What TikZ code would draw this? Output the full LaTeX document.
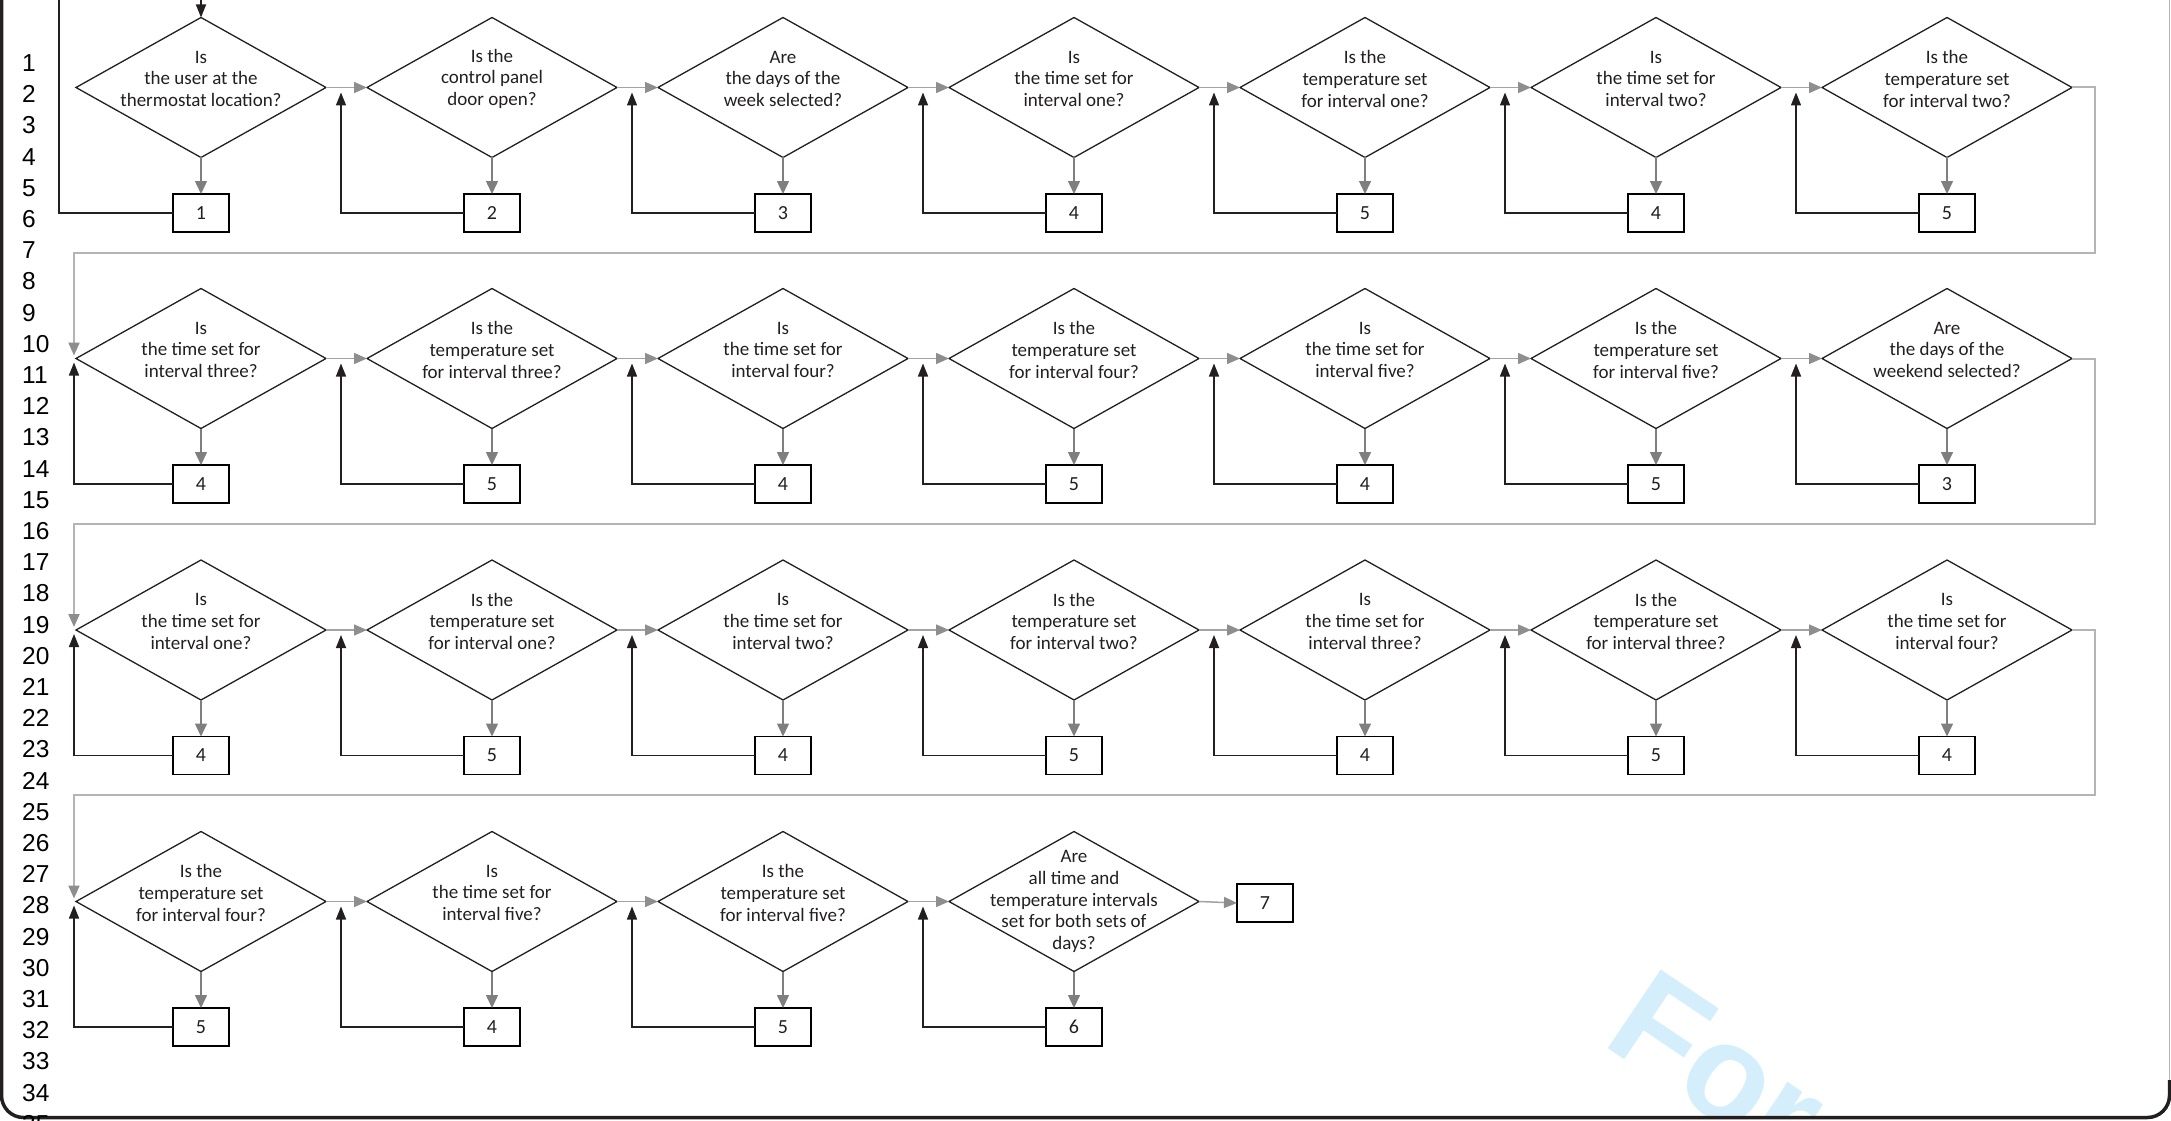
\documentclass[tikz,border=0pt]{standalone}
\usepackage{fontspec}
\setmainfont{Carlito}
\newfontfamily\numfont{Liberation Sans}
\newfontfamily\wmfont{Liberation Sans}
\usetikzlibrary{shapes.geometric,arrows.meta}
\definecolor{ink}{HTML}{231F20}
\definecolor{conn}{HTML}{A3A3A3}
\definecolor{connhead}{HTML}{8E8E8E}
\definecolor{downc}{HTML}{7F7F7F}
\definecolor{sepc}{HTML}{B4B4B4}
\definecolor{wm}{HTML}{D4EFFB}
\begin{document}
\begin{tikzpicture}[x=1pt,y=-1pt,
  dia/.style={draw=ink, line width=1.3pt, shape=diamond, minimum width=250pt, minimum height=140pt, inner sep=0pt, outer sep=0pt},
  qtxt/.style={text=ink, align=center, font=\fontsize{19}{21.7}\selectfont, inner sep=0pt},
  numbox/.style={draw=black, line width=1.8pt, minimum width=56pt, minimum height=38pt, inner sep=0pt, outer sep=0pt, text=ink, font=\fontsize{20}{22}\selectfont},
  fwd/.style={draw=conn, line width=1.5pt, -{Triangle[length=13pt,width=11pt,color=connhead]}},
  down/.style={draw=downc, line width=1.5pt, -{Triangle[length=13pt,width=12pt,color=downc]}},
  back/.style={draw=ink, line width=1.5pt, -{Triangle[length=13pt,width=10pt,color=ink]}},
  backplain/.style={draw=ink, line width=1.5pt},
  wrap/.style={draw=sepc, line width=2pt, -{Triangle[length=13pt,width=11pt,color=connhead]}},
  lnum/.style={anchor=west, inner sep=0pt, font=\numfont\fontsize{24.5}{24.5}\selectfont, text=black},
  wmark/.style={text=wm, font=\wmfont\bfseries\fontsize{138}{138}\selectfont, rotate=-34, anchor=base west, inner sep=0pt}
]
\useasboundingbox (0,0) rectangle (2171,1121);
\fill[white] (0,0) rectangle (2171,1121);

% watermark
\begin{scope}
\clip (0,0) rectangle (2166,1116);
\node[wmark] (wmk) at (1600,1043) {For};
\end{scope}

% frame
\coordinate (frTR) at (2169.5,-5);
\coordinate (frR) at (2169.5,1095);
\draw[sepc, line width=1.5pt] (frTR) -- (frR);
\draw[ink, line width=3.5pt, rounded corners=22pt] (1.5,-5) -- (1.5,1117.5) -- (2169.5,1117.5) -- (2169.5,1080);

% line numbers
\foreach \k in {1,...,35}{
  \node[lnum] (ln\k) at (22,{63+31.2*(\k-1)}) {\k};
}

% row 1
\foreach \i/\qq/\bb in {
  1/{Is\\the user at the\\thermostat location?}/1,
  2/{Is the\\control panel\\door open?}/2,
  3/{Are\\the days of the\\week selected?}/3,
  4/{Is\\the time set for\\interval one?}/4,
  5/{Is the\\temperature set\\for interval one?}/5,
  6/{Is\\the time set for\\interval two?}/4,
  7/{Is the\\temperature set\\for interval two?}/5}{
  \node[dia] (d1\i) at ({201+291*(\i-1)},87.5) {};
  \node[qtxt] (t1\i) at ({201+291*(\i-1)},78.8) {\qq};
  \node[numbox] (b1\i) at ({201+291*(\i-1)},213) {\bb};
  \draw[down] (d1\i.south) -- (b1\i.north);
}

% row 2
\foreach \i/\qq/\bb in {
  1/{Is\\the time set for\\interval three?}/4,
  2/{Is the\\temperature set\\for interval three?}/5,
  3/{Is\\the time set for\\interval four?}/4,
  4/{Is the\\temperature set\\for interval four?}/5,
  5/{Is\\the time set for\\interval five?}/4,
  6/{Is the\\temperature set\\for interval five?}/5,
  7/{Are\\the days of the\\weekend selected?}/3}{
  \node[dia] (d2\i) at ({201+291*(\i-1)},358.5) {};
  \node[qtxt] (t2\i) at ({201+291*(\i-1)},349.8) {\qq};
  \node[numbox] (b2\i) at ({201+291*(\i-1)},484) {\bb};
  \draw[down] (d2\i.south) -- (b2\i.north);
}

% row 3
\foreach \i/\qq/\bb in {
  1/{Is\\the time set for\\interval one?}/4,
  2/{Is the\\temperature set\\for interval one?}/5,
  3/{Is\\the time set for\\interval two?}/4,
  4/{Is the\\temperature set\\for interval two?}/5,
  5/{Is\\the time set for\\interval three?}/4,
  6/{Is the\\temperature set\\for interval three?}/5,
  7/{Is\\the time set for\\interval four?}/4}{
  \node[dia] (d3\i) at ({201+291*(\i-1)},630) {};
  \node[qtxt] (t3\i) at ({201+291*(\i-1)},621.3) {\qq};
  \node[numbox] (b3\i) at ({201+291*(\i-1)},755.5) {\bb};
  \draw[down] (d3\i.south) -- (b3\i.north);
}

% row 4
\foreach \i/\qq/\bb in {
  1/{Is the\\temperature set\\for interval four?}/5,
  2/{Is\\the time set for\\interval five?}/4,
  3/{Is the\\temperature set\\for interval five?}/5}{
  \node[dia] (d4\i) at ({201+291*(\i-1)},901.5) {};
  \node[qtxt] (t4\i) at ({201+291*(\i-1)},892.8) {\qq};
  \node[numbox] (b4\i) at ({201+291*(\i-1)},1027) {\bb};
  \draw[down] (d4\i.south) -- (b4\i.north);
}
\node[dia] (d44) at (1074,901.5) {};
\node[qtxt] (t44) at (1074,901.5) {Are\\all time and\\temperature intervals\\set for both sets of\\days?};
\node[numbox] (b44) at (1074,1027) {6};
\draw[down] (d44.south) -- (b44.north);
\node[numbox] (b7) at (1265,903) {7};
\draw[fwd] (d44.east) -- (b7.west);

% forward connectors
\foreach \r/\lastm in {1/6,2/6,3/6,4/3}{
  \foreach \i in {1,...,\lastm}{
    \pgfmathtruncatemacro\j{\i+1}
    \draw[fwd] (d\r\i.east) -- (d\r\j.west);
  }
}

% feedback loops
\foreach \r/\last in {1/7,2/7,3/7,4/4}{
  \foreach \i in {2,...,\last}{
    \draw[back] (b\r\i.west) -| ([xshift=-26pt,yshift=-5pt]d\r\i.west);
  }
}
\foreach \r in {2,3,4}{
  \draw[back] (b\r1.west) -| ([xshift=-2pt,yshift=-4pt]d\r1.west);
}
\coordinate (topin) at (201,-5);
\draw[back] (topin) -- (d11.north);
\coordinate (topL) at (59,-5);
\draw[backplain] (b11.west) -| (topL);

% row wraps
\foreach \r/\s/\ys in {1/2/252.5, 2/3/523.5, 3/4/795}{
  \coordinate (wr\r) at (2095,\ys);
  \draw[wrap] (d\r7.east) -| (wr\r) -| ([xshift=-2pt,yshift=3pt]d\s1.west);
}
\end{tikzpicture}
\end{document}
